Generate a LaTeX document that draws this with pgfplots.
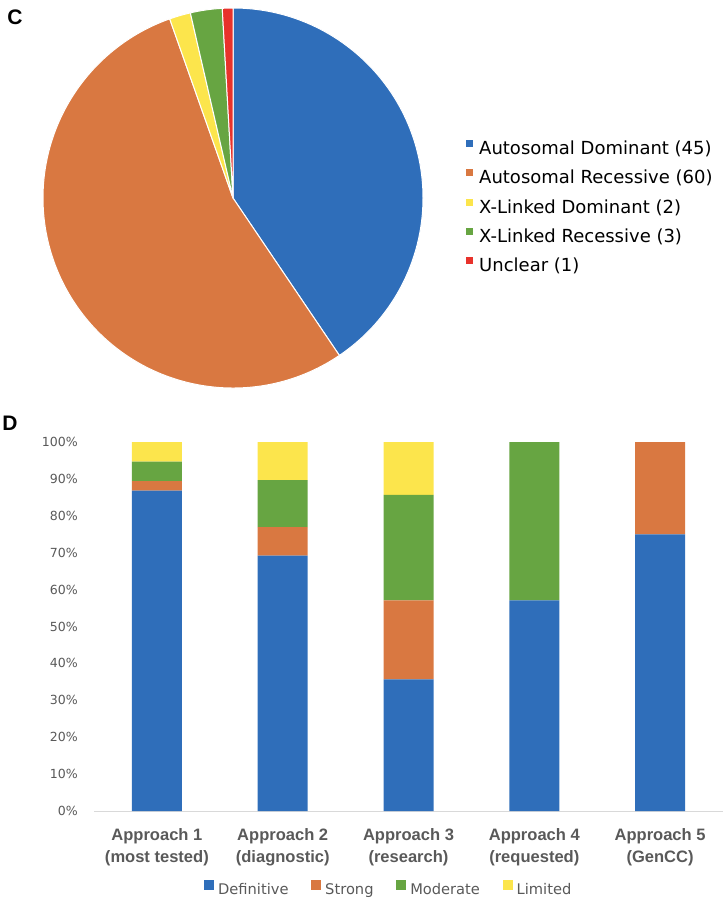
\documentclass[border=0pt]{standalone}
\usepackage{fontspec}
\setmainfont{DejaVu Sans}
\newfontfamily\lib{Liberation Sans}
\usepackage{pgfplots}
\pgfplotsset{compat=1.18}
\usepackage{pgfplotstable}

\definecolor{cBlue}{HTML}{2F6EBA}
\definecolor{cOrange}{HTML}{D97841}
\definecolor{cYellow}{HTML}{FCE54C}
\definecolor{cGreen}{HTML}{67A542}
\definecolor{cRed}{HTML}{E8322B}
\definecolor{txtgray}{HTML}{595959}
\definecolor{axgray}{HTML}{D9D9D9}

% Pie data (counts)
\def\vAD{45}
\def\vAR{60}
\def\vXD{2}
\def\vXR{3}
\def\vU{1}

% Bar data (percent)
\pgfplotstableread{
x def strong moderate limited
0 86.8 2.6 5.3 5.3
1 69.2 7.7 12.8 10.3
2 35.7 21.4 28.6 14.3
3 57.1 0 42.9 0
4 75.0 25.0 0 0
}\bardata

\begin{document}
\begin{tikzpicture}
\path[use as bounding box] (0pt,0pt) rectangle (543.75pt,-675pt);

\pgfmathsetmacro\tot{\vAD+\vAR+\vXD+\vXR+\vU}
\pgfmathsetmacro\unit{360/\tot}
\pgfmathsetmacro\aA{90}
\pgfmathsetmacro\aB{\aA-\unit*\vAD}
\pgfmathsetmacro\aC{\aB-\unit*\vAR}
\pgfmathsetmacro\aD{\aC-\unit*\vXD}
\pgfmathsetmacro\aE{\aD-\unit*\vXR}
\pgfmathsetmacro\aF{\aE-\unit*\vU}

\node[font=\lib\bfseries\fontsize{15.75}{18}\selectfont] at (11.25pt,-12.75pt) {C};
\node[font=\lib\bfseries\fontsize{15.75}{18}\selectfont] at (7.5pt,-317.25pt) {D};

% ---------- Pie ----------
\begin{axis}[
  at={(174.75pt,-148.5pt)}, anchor=center,
  scale only axis, width=285pt, height=285pt,
  xmin=-1, xmax=1, ymin=-1, ymax=1,
  hide axis, clip=false,
  legend image code/.code={\fill[#1] (0pt,2.1pt) rectangle (5.25pt,7.35pt);},
  legend style={draw=none, fill=none, inner sep=0pt,
    at={(1.113,0.474)}, anchor=west,
    font=\fontsize{13.5}{16}\selectfont, text=black,
    row sep=8.2pt,
    nodes={inner sep=0pt, text height=10pt, text depth=3pt},
    /tikz/every odd column/.append style={column sep=4.5pt}},
  legend cell align=left,
]
\fill[cBlue, draw=white, line width=0.75pt] (axis cs:0,0) -- ++(\aA:142.5pt) arc[start angle=\aA, end angle=\aB, radius=142.5pt] -- cycle;
\fill[cOrange, draw=white, line width=0.75pt] (axis cs:0,0) -- ++(\aB:142.5pt) arc[start angle=\aB, end angle=\aC, radius=142.5pt] -- cycle;
\fill[cYellow, draw=white, line width=0.75pt] (axis cs:0,0) -- ++(\aC:142.5pt) arc[start angle=\aC, end angle=\aD, radius=142.5pt] -- cycle;
\fill[cGreen, draw=white, line width=0.75pt] (axis cs:0,0) -- ++(\aD:142.5pt) arc[start angle=\aD, end angle=\aE, radius=142.5pt] -- cycle;
\fill[cRed, draw=white, line width=0.75pt] (axis cs:0,0) -- ++(\aE:142.5pt) arc[start angle=\aE, end angle=\aF, radius=142.5pt] -- cycle;
\addlegendimage{fill=cBlue, draw=none}
\addlegendentry{Autosomal Dominant (45)}
\addlegendimage{fill=cOrange, draw=none}
\addlegendentry{Autosomal Recessive (60)}
\addlegendimage{fill=cYellow, draw=none}
\addlegendentry{X-Linked Dominant (2)}
\addlegendimage{fill=cGreen, draw=none}
\addlegendentry{X-Linked Recessive (3)}
\addlegendimage{fill=cRed, draw=none}
\addlegendentry{Unclear (1)}
\end{axis}

% ---------- Stacked bars ----------
\begin{axis}[
  at={(70.5pt,-608.25pt)}, anchor=south west,
  scale only axis, width=471.75pt, height=276.75pt,
  ybar stacked, bar width=37.5pt,
  xmin=-0.5, xmax=4.5, ymin=0, ymax=100,
  axis x line*=bottom, axis y line*=left,
  x axis line style={axgray, line width=0.75pt, -},
  y axis line style={draw=none},
  major tick length=0pt,
  xtick=data,
  xticklabels={{Approach 1\\(most tested)},{Approach 2\\(diagnostic)},{Approach 3\\(research)},{Approach 4\\(requested)},{Approach 5\\(GenCC)}},
  xticklabel style={align=center, text=txtgray, inner sep=0pt, yshift=-13pt,
    font=\lib\bfseries\fontsize{12.4}{16.5}\selectfont},
  ytick={0,10,...,100},
  yticklabels={0\%,10\%,20\%,30\%,40\%,50\%,60\%,70\%,80\%,90\%,100\%},
  yticklabel style={text=txtgray, inner sep=0pt, xshift=-12pt,
    font=\fontsize{9.4}{11}\selectfont},
  legend image code/.code={\fill[#1] (0pt,0.2pt) rectangle (7.5pt,7.7pt);},
  legend columns=4,
  legend style={draw=none, fill=none, inner sep=0pt,
    at={(0.467,-0.2087)}, anchor=center,
    font=\fontsize{11}{13}\selectfont, text=txtgray,
    nodes={inner sep=0pt},
    /tikz/every odd column/.append style={column sep=3pt},
    /tikz/every even column/.append style={column sep=17pt}},
]
\addplot[fill=cBlue, draw=none] table[x=x, y=def] {\bardata};
\addlegendentry{Definitive}
\addplot[fill=cOrange, draw=none] table[x=x, y=strong] {\bardata};
\addlegendentry{Strong}
\addplot[fill=cGreen, draw=none] table[x=x, y=moderate] {\bardata};
\addlegendentry{Moderate}
\addplot[fill=cYellow, draw=none] table[x=x, y=limited] {\bardata};
\addlegendentry{Limited}
\end{axis}
\end{tikzpicture}
\end{document}
